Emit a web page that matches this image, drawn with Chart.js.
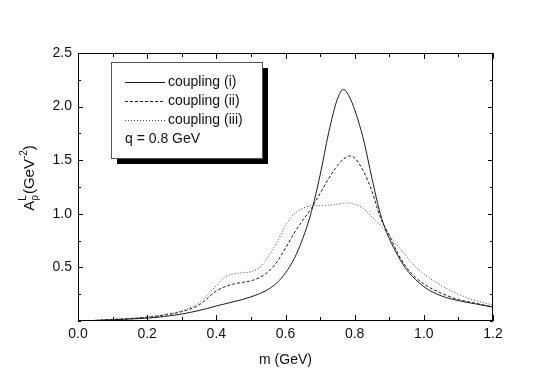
<!DOCTYPE html>
<html lang="en">
<head>
    <meta charset="UTF-8">
    <title>A_rho^L vs m</title>
    <script src="https://cdn.jsdelivr.net/npm/chart.js"></script>
    <style>
        body {
            margin: 0;
            background: #ffffff;
        }
        #wrap {
            width: 545px;
            height: 380px;
        }
    </style>
</head>
<body>
    <div id="wrap">
        <canvas id="rhoChart" width="545" height="380"></canvas>
    </div>

    <script>
        // values
        const massValues = [0.05, 0.1, 0.15, 0.2, 0.25, 0.3, 0.35, 0.4, 0.425, 0.45, 0.475, 0.5, 0.525, 0.55, 0.575,
            0.6, 0.625, 0.65, 0.675, 0.7, 0.725, 0.75, 0.7675, 0.785, 0.8, 0.825, 0.85, 0.875, 0.9, 0.925, 0.95,
            0.975, 1.0, 1.05, 1.1, 1.15, 1.2];
        const couplingI = [0.005, 0.012, 0.018, 0.027, 0.042, 0.065, 0.098, 0.14, 0.16, 0.18, 0.2, 0.225, 0.255, 0.295, 0.355,
            0.45, 0.58, 0.77, 1.02, 1.36, 1.76, 2.07, 2.16, 2.09, 1.97, 1.7, 1.33, 0.99, 0.77, 0.61, 0.48,
            0.39, 0.32, 0.235, 0.19, 0.16, 0.13];
        const couplingII = [0.006, 0.014, 0.022, 0.035, 0.055, 0.087, 0.15, 0.28, 0.32, 0.345, 0.36, 0.375, 0.405, 0.46, 0.55,
            0.68, 0.82, 0.94, 1.05, 1.19, 1.33, 1.45, 1.51, 1.54, 1.52, 1.4, 1.21, 0.96, 0.8, 0.63, 0.5,
            0.41, 0.345, 0.26, 0.2, 0.165, 0.13];
        const couplingIII = [0.006, 0.015, 0.025, 0.037, 0.06, 0.095, 0.17, 0.33, 0.41, 0.44, 0.45, 0.46, 0.5, 0.6, 0.73,
            0.89, 1.0, 1.05, 1.075, 1.075, 1.08, 1.09, 1.1, 1.1, 1.09, 1.05, 0.97, 0.89, 0.8, 0.7, 0.6,
            0.51, 0.44, 0.33, 0.25, 0.19, 0.15];
        const seriesLabels = ['coupling (i)', 'coupling (ii)', 'coupling (iii)'];
        const xTickLabels = ['0.0', '0.2', '0.4', '0.6', '0.8', '1.0', '1.2'];
        const yTickLabels = ['0.5', '1.0', '1.5', '2.0', '2.5'];
        const xTitle = 'm (GeV)';
        const noteText = 'q = 0.8 GeV';

        const FONT = '"Liberation Sans", Arial, Helvetica, sans-serif';
        const INK = '#111111';

        function toPoints(ys) {
            return massValues.map((m, i) => ({ x: m, y: ys[i] }));
        }

        function isLabelled(value, labels) {
            return labels.indexOf(value.toFixed(1)) !== -1;
        }

        // frame, inward ticks, legend box and axis titles
        const paperPlugin = {
            id: 'paper',
            afterDraw(chart) {
                const ctx = chart.ctx;
                const area = chart.chartArea;
                const xs = chart.scales.x;
                const ys = chart.scales.y;
                ctx.save();
                ctx.strokeStyle = '#000';
                ctx.lineWidth = 1;
                ctx.strokeRect(area.left + 0.5, area.top + 0.5, area.right - area.left - 1, area.bottom - area.top - 1);

                ctx.beginPath();
                xs.ticks.forEach(t => {
                    const px = Math.round(xs.getPixelForValue(t.value)) + 0.5;
                    const len = isLabelled(t.value, xTickLabels) ? 6 : 4;
                    ctx.moveTo(px, area.bottom);
                    ctx.lineTo(px, area.bottom - len);
                    ctx.moveTo(px, area.top);
                    ctx.lineTo(px, area.top + len);
                });
                ys.ticks.forEach(t => {
                    const py = Math.round(ys.getPixelForValue(t.value)) + 0.5;
                    const len = isLabelled(t.value, yTickLabels) ? 5 : 3;
                    ctx.moveTo(area.left, py);
                    ctx.lineTo(area.left + len, py);
                    ctx.moveTo(area.right, py);
                    ctx.lineTo(area.right - len, py);
                });
                ctx.stroke();

                // legend box with drop shadow
                const bx = 111, by = 62, bw = 151, bh = 96;
                ctx.fillStyle = '#000';
                ctx.fillRect(bx + 6, by + 6, bw, bh);
                ctx.fillStyle = '#fff';
                ctx.fillRect(bx, by, bw, bh);
                ctx.strokeStyle = '#555';
                ctx.strokeRect(bx + 0.5, by + 0.5, bw, bh);

                ctx.font = '14px ' + FONT;
                ctx.textBaseline = 'middle';
                ctx.textAlign = 'left';
                chart.data.datasets.forEach((ds, i) => {
                    const ly = 82.5 + i * 19;
                    ctx.strokeStyle = ds.borderColor;
                    ctx.lineWidth = 1;
                    ctx.setLineDash(ds.borderDash || []);
                    ctx.beginPath();
                    ctx.moveTo(125, ly);
                    ctx.lineTo(165, ly);
                    ctx.stroke();
                    ctx.setLineDash([]);
                    ctx.fillStyle = INK;
                    ctx.fillText(ds.label, 168, ly);
                });
                ctx.fillText(noteText, 125, 139.5);

                // x title
                ctx.textAlign = 'center';
                ctx.fillText(xTitle, (area.left + area.right) / 2, 360);

                // rotated y title: A with sub rho and sup L, (GeV^-2)
                ctx.textAlign = 'left';
                ctx.translate(29, 178);
                ctx.rotate(-Math.PI / 2);
                const big = '15px ' + FONT;
                const small = '10px ' + FONT;
                ctx.textBaseline = 'alphabetic';
                ctx.font = big;
                const wA = ctx.measureText('A').width;
                const wOpen = ctx.measureText('(GeV').width;
                const wClose = ctx.measureText(')').width;
                ctx.font = small;
                const wRho = ctx.measureText('\u03c1').width;
                const wL = ctx.measureText('L').width;
                const wExp = ctx.measureText('-2').width;
                const total = wA + Math.max(wRho, wL) + 1 + wOpen + wExp + wClose;
                let cx = -total / 2;
                const base = 5;
                ctx.fillStyle = INK;
                ctx.font = big;
                ctx.fillText('A', cx, base);
                cx += wA;
                ctx.font = small;
                ctx.fillText('\u03c1', cx, base + 4);
                ctx.fillText('L', cx, base - 8);
                cx += Math.max(wRho, wL) + 1;
                ctx.font = big;
                ctx.fillText('(GeV', cx, base);
                cx += wOpen;
                ctx.font = small;
                ctx.fillText('-2', cx, base - 7);
                cx += wExp;
                ctx.font = big;
                ctx.fillText(')', cx, base);
                ctx.restore();
            }
        };

        const ctx = document.getElementById('rhoChart').getContext('2d');
        const rhoChart = new Chart(ctx, {
            type: 'line',
            data: {
                datasets: [{
                    label: seriesLabels[0],
                    data: toPoints(couplingI),
                    borderColor: '#1a1a1a',
                    borderWidth: 1
                }, {
                    label: seriesLabels[1],
                    data: toPoints(couplingII),
                    borderColor: '#1a1a1a',
                    borderWidth: 1,
                    borderDash: [3, 2]
                }, {
                    label: seriesLabels[2],
                    data: toPoints(couplingIII),
                    borderColor: '#444444',
                    borderWidth: 1,
                    borderDash: [1, 2]
                }]
            },
            options: {
                responsive: false,
                animation: false,
                layout: { padding: { top: 53, right: 52, left: 0, bottom: 0 } },
                elements: {
                    point: { radius: 0 },
                    line: { cubicInterpolationMode: 'monotone', fill: false }
                },
                plugins: {
                    legend: { display: false },
                    tooltip: { enabled: false }
                },
                scales: {
                    x: {
                        type: 'linear',
                        min: 0,
                        max: 1.2,
                        grid: { display: false, drawTicks: false },
                        border: { display: false },
                        ticks: {
                            stepSize: 0.1,
                            padding: 5,
                            maxRotation: 0,
                            autoSkip: false,
                            color: INK,
                            font: { family: FONT, size: 14 },
                            callback: v => isLabelled(v, xTickLabels) ? v.toFixed(1) : ''
                        },
                        afterFit: s => { s.height = 59; }
                    },
                    y: {
                        min: 0,
                        max: 2.5,
                        grid: { display: false, drawTicks: false },
                        border: { display: false },
                        ticks: {
                            stepSize: 0.25,
                            padding: 6,
                            autoSkip: false,
                            color: INK,
                            font: { family: FONT, size: 14 },
                            callback: v => (v > 0 && isLabelled(v, yTickLabels)) ? v.toFixed(1) : ''
                        },
                        afterFit: s => { s.width = 78; }
                    }
                }
            },
            plugins: [paperPlugin]
        });
    </script>
</body>
</html>
